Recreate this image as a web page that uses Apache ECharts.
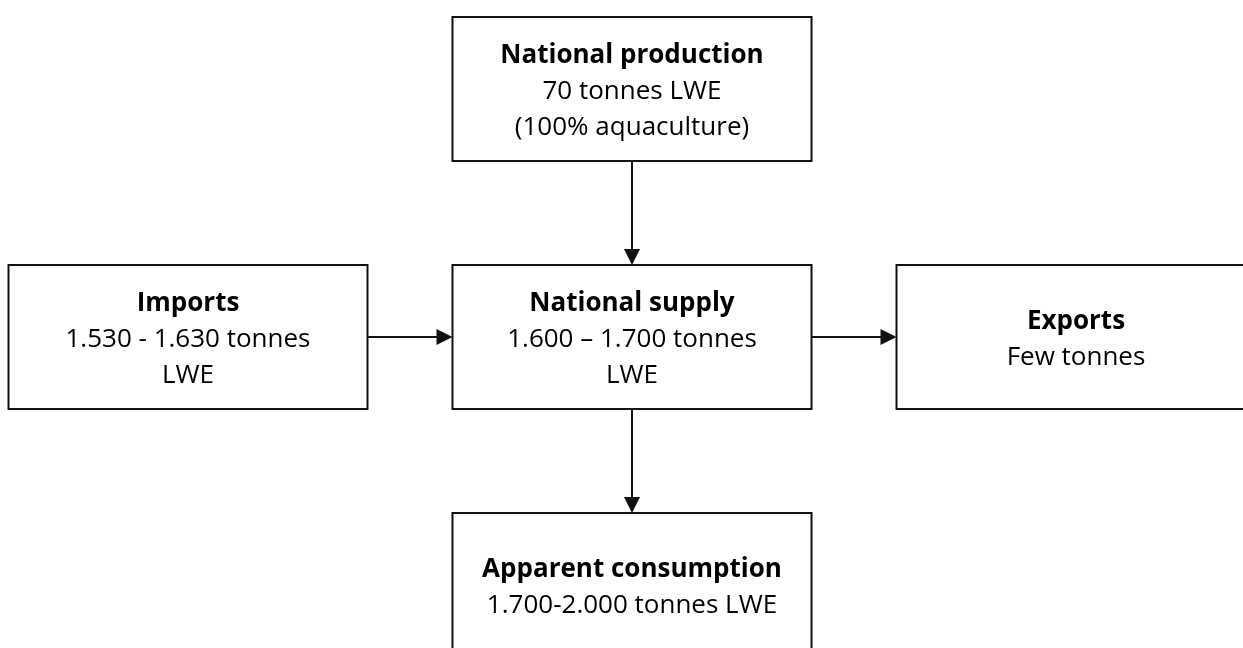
<!DOCTYPE html>
<html>
<head>
<meta charset="utf-8">
<script src="https://cdn.jsdelivr.net/npm/echarts@6/dist/echarts.min.js"></script>
<style>
  html, body { margin: 0; padding: 0; background: #fff; }
  #chart { width: 1243px; height: 648px; }
</style>
</head>
<body>
<div id="chart"></div>
<script>
// boxes of the flow diagram: grid column / row, bold title, value lines
const nodeNames = ['production', 'imports', 'supply', 'exports', 'consumption'];
const nodeCols = [1, 0, 1, 2, 1];
const nodeRows = [0, 1, 1, 1, 2];
const nodeTitles = ['National production', 'Imports', 'National supply', 'Exports', 'Apparent consumption'];
const nodeLines = [
  ['70 tonnes LWE', '(100% aquaculture)'],
  ['1.530 - 1.630 tonnes', 'LWE'],
  ['1.600 \u2013 1.700 tonnes', 'LWE'],
  ['Few tonnes'],
  ['1.700-2.000 tonnes LWE']
];
// arrows between boxes
const flowFrom = ['production', 'imports', 'supply', 'supply'];
const flowTo = ['supply', 'supply', 'exports', 'consumption'];

const BOX_W = 359;
const BOX_H = 144;
const ARROW = 16;
const INK = '#111';

const chart = echarts.init(document.getElementById('chart'));

const nodeData = nodeNames.map((n, i) => [nodeCols[i], nodeRows[i]]);
const edgeData = flowFrom.map((f, i) => {
  const a = nodeNames.indexOf(f);
  const b = nodeNames.indexOf(flowTo[i]);
  return [nodeCols[a], nodeRows[a], nodeCols[b], nodeRows[b]];
});

function renderEdge(params, api) {
  const p1 = api.coord([api.value(0), api.value(1)]);
  const p2 = api.coord([api.value(2), api.value(3)]);
  let x1, y1, x2, y2, arrow;
  if (api.value(1) === api.value(3)) {
    // horizontal arrow
    const s = p2[0] > p1[0] ? 1 : -1;
    x1 = p1[0] + s * BOX_W / 2;
    x2 = p2[0] - s * BOX_W / 2;
    y1 = y2 = p1[1];
    arrow = [[x2, y2], [x2 - s * ARROW, y2 - 8], [x2 - s * ARROW, y2 + 8]];
    x2 -= s * (ARROW - 2);
  } else {
    // vertical arrow
    const s = p2[1] > p1[1] ? 1 : -1;
    y1 = p1[1] + s * BOX_H / 2;
    y2 = p2[1] - s * BOX_H / 2;
    x1 = x2 = p1[0];
    arrow = [[x2, y2], [x2 - 8, y2 - s * ARROW], [x2 + 8, y2 - s * ARROW]];
    y2 -= s * (ARROW - 2);
  }
  return {
    type: 'group',
    children: [
      { type: 'line', shape: { x1: x1, y1: y1, x2: x2, y2: y2 }, style: { stroke: INK, lineWidth: 2 } },
      { type: 'polygon', shape: { points: arrow }, style: { fill: INK } }
    ]
  };
}

function renderNode(params, api) {
  const c = api.coord([api.value(0), api.value(1)]);
  const i = params.dataIndex;
  const text = ['{t|' + nodeTitles[i] + '}']
    .concat(nodeLines[i].map(s => '{v|' + s + '}'))
    .join('\n');
  return {
    type: 'rect',
    shape: { x: c[0] - BOX_W / 2, y: c[1] - BOX_H / 2, width: BOX_W, height: BOX_H },
    style: { fill: '#fff', stroke: INK, lineWidth: 2 },
    textContent: {
      style: {
        text: text,
        align: 'center',
        verticalAlign: 'middle',
        rich: {
          t: { fontFamily: 'Open Sans', fontWeight: 'bold', fontSize: 26, lineHeight: 36, fill: '#000' },
          v: { fontFamily: 'Open Sans', fontSize: 26, lineHeight: 36, fill: '#000' }
        }
      }
    },
    textConfig: { position: 'inside', offset: [0, 3] }
  };
}

chart.setOption({
  animation: false,
  grid: { left: 188, right: 167, top: 89, bottom: 63 },
  xAxis: { type: 'value', min: 0, max: 2, show: false },
  yAxis: { type: 'value', min: 0, max: 2, inverse: true, show: false },
  series: [
    { type: 'custom', clip: false, data: edgeData, renderItem: renderEdge, z: 1 },
    { type: 'custom', clip: false, data: nodeData, renderItem: renderNode, z: 2 }
  ]
});
</script>
</body>
</html>
